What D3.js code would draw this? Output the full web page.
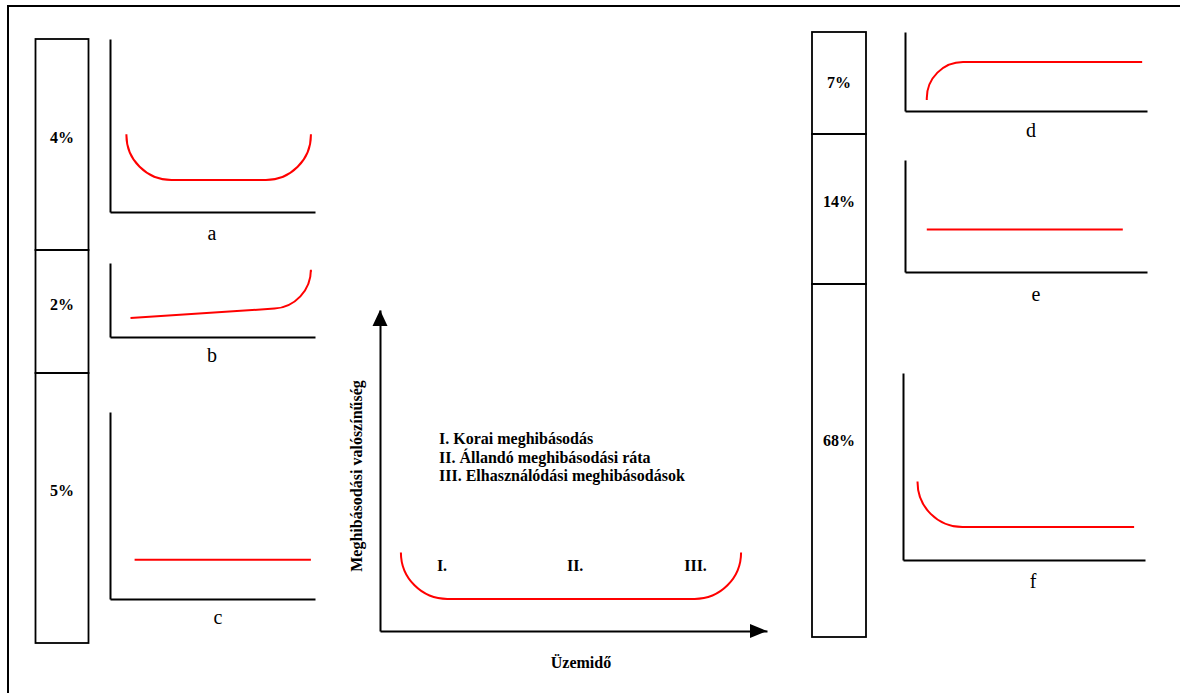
<!DOCTYPE html>
<html>
<head>
<meta charset="utf-8">
<script src="https://cdn.jsdelivr.net/npm/d3@7"></script>
<style>
  body { margin: 0; background: #fff; }
  svg { display: block; font-family: "Liberation Serif", "Times New Roman", serif; }
  .domain { stroke: #000; stroke-width: 2; }
</style>
</head>
<body>
<svg width="1180" height="693"></svg>
<script>
// --- data ---
const leftShares = [4, 2, 5];
const rightShares = [7, 14, 68];
const panelNames = ['a', 'b', 'c', 'd', 'e', 'f'];

// curve vertices per panel, time 0-100 / rate 0-100
const curveA = [[8, 45], [8, 18.5], [98, 18.5], [98, 45]];
const curveB = [[10, 25.7], [98, 41.6], [98, 88]];
const curveC = [[12, 21], [98, 21]];
const curveD = [[9, 14], [9, 62], [98, 62]];
const curveE = [[9, 38], [90, 38]];
const curveF = [[6, 42], [6, 17.6], [95.5, 17.6]];
// length of the bent part of each curve, in time units
const bends = [22, 19, 0, 15, 0, 18.6];

const mainCurve = [[5.4, 24.3], [5.4, 10], [93.3, 10], [93.3, 24.3]];
const mainBend = 12;
const phaseNames = ['I.', 'II.', 'III.'];
const phaseTimes = [14.7, 48.3, 78.6];
const legendLines = [
  'I. Korai meghibásodás',
  'II. Állandó meghibásodási ráta',
  'III. Elhasználódási meghibásodások'
];
const yTitle = 'Meghibásodási valószínűség';
const xTitle = 'Üzemidő';

// --- layout ---
const svg = d3.select('svg');
const panels = [
  { x0: 110, x1: 315, yb: 212, yt: 39,  lx: 212,  ly: 240 },
  { x0: 110, x1: 315, yb: 337, yt: 263, lx: 212,  ly: 362 },
  { x0: 110, x1: 315, yb: 599, yt: 412, lx: 218,  ly: 624 },
  { x0: 905, x1: 1147, yb: 111, yt: 32, lx: 1031, ly: 137 },
  { x0: 905, x1: 1147, yb: 272, yt: 160, lx: 1036, ly: 301 },
  { x0: 903, x1: 1145, yb: 560, yt: 373, lx: 1033, ly: 588 }
];
const curves = [curveA, curveB, curveC, curveD, curveE, curveF];

const stacks = [
  { x: 35.5, w: 53, edges: [39, 250, 373, 643], labelY: [143, 310, 496], values: leftShares },
  { x: 812, w: 54, edges: [32, 134, 284, 637], labelY: [88, 207, 446], values: rightShares }
];

const boldSize = 16;

const roundedPath = (pts, bend, x, y) => {
  const p = d3.path();
  const r = x(bend) - x(0);
  p.moveTo(x(pts[0][0]), y(pts[0][1]));
  for (let i = 1; i < pts.length - 1; i++) {
    p.arcTo(x(pts[i][0]), y(pts[i][1]), x(pts[i + 1][0]), y(pts[i + 1][1]), r);
  }
  const last = pts[pts.length - 1];
  p.lineTo(x(last[0]), y(last[1]));
  return p.toString();
};

// outer frame (top and left only)
svg.append('path')
  .attr('d', 'M8,693V6H1180')
  .attr('fill', 'none')
  .attr('stroke', '#000')
  .attr('stroke-width', 2);

// stacked share boxes
stacks.forEach(s => {
  const g = svg.append('g');
  g.selectAll('rect').data(s.values).enter().append('rect')
    .attr('x', s.x)
    .attr('y', (d, i) => s.edges[i])
    .attr('width', s.w)
    .attr('height', (d, i) => s.edges[i + 1] - s.edges[i])
    .attr('fill', 'none')
    .attr('stroke', '#000')
    .attr('stroke-width', 1.8);
  g.selectAll('text').data(s.values).enter().append('text')
    .attr('x', s.x + s.w / 2)
    .attr('y', (d, i) => s.labelY[i])
    .attr('text-anchor', 'middle')
    .attr('font-weight', 'bold')
    .attr('font-size', boldSize)
    .text(d => d + '%');
});

// small panels
panels.forEach((p, i) => {
  const x = d3.scaleLinear().domain([0, 100]).range([p.x0, p.x1]);
  const y = d3.scaleLinear().domain([0, 100]).range([p.yb, p.yt]);
  const g = svg.append('g');
  g.append('g')
    .attr('transform', `translate(0,${p.yb})`)
    .call(d3.axisBottom(x).tickValues([]).tickSizeOuter(0));
  g.append('g')
    .attr('transform', `translate(${p.x0},0)`)
    .call(d3.axisLeft(y).tickValues([]).tickSizeOuter(0));
  g.append('path')
    .attr('d', roundedPath(curves[i], bends[i], x, y))
    .attr('fill', 'none')
    .attr('stroke', '#ff0000')
    .attr('stroke-width', 2);
  g.append('text')
    .attr('x', p.lx)
    .attr('y', p.ly)
    .attr('text-anchor', 'middle')
    .attr('font-size', 20)
    .text(panelNames[i]);
});

// main bathtub chart
const mx = d3.scaleLinear().domain([0, 100]).range([380, 767]);
const my = d3.scaleLinear().domain([0, 100]).range([631, 310]);
const main = svg.append('g');
main.append('g')
  .attr('transform', `translate(0,${my(0)})`)
  .call(d3.axisBottom(mx).tickValues([]).tickSizeOuter(0));
main.append('g')
  .attr('transform', `translate(${mx(0)},0)`)
  .call(d3.axisLeft(my).tickValues([]).tickSizeOuter(0));
main.append('path')
  .attr('d', `M${mx(100)},${my(0)}L${mx(100) - 17},${my(0) - 7}L${mx(100) - 17},${my(0) + 7}Z`);
main.append('path')
  .attr('d', `M${mx(0)},${my(100)}L${mx(0) - 7.5},${my(100) + 16}L${mx(0) + 7.5},${my(100) + 16}Z`);

main.append('path')
  .attr('d', roundedPath(mainCurve, mainBend, mx, my))
  .attr('fill', 'none')
  .attr('stroke', '#ff0000')
  .attr('stroke-width', 2);

main.selectAll('.phase').data(phaseNames).enter().append('text')
  .attr('class', 'phase')
  .attr('x', (d, i) => mx(phaseTimes[i]))
  .attr('y', 571)
  .attr('font-weight', 'bold')
  .attr('font-size', boldSize)
  .text(d => d);

main.selectAll('.legend').data(legendLines).enter().append('text')
  .attr('class', 'legend')
  .attr('x', 439)
  .attr('y', (d, i) => 444 + i * 18.5)
  .attr('font-weight', 'bold')
  .attr('font-size', boldSize)
  .text(d => d);

main.append('text')
  .attr('transform', 'translate(362,476) rotate(-90)')
  .attr('text-anchor', 'middle')
  .attr('font-weight', 'bold')
  .attr('font-size', boldSize)
  .text(yTitle);

main.append('text')
  .attr('x', 581)
  .attr('y', 668)
  .attr('text-anchor', 'middle')
  .attr('font-weight', 'bold')
  .attr('font-size', boldSize)
  .text(xTitle);
</script>
</body>
</html>
